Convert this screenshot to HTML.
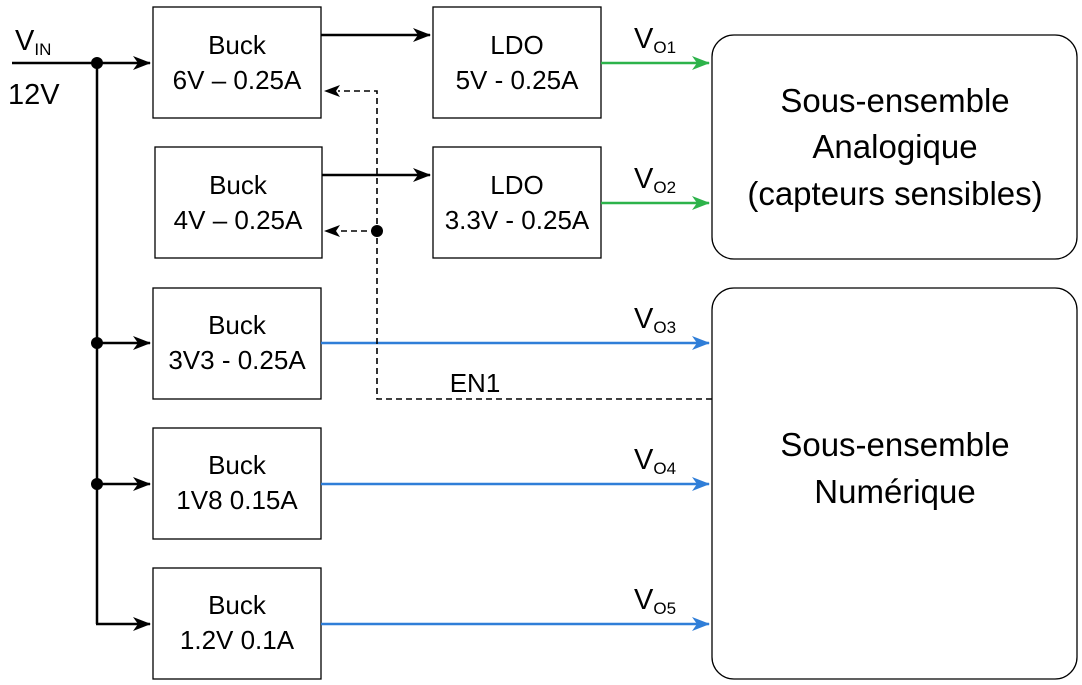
<!DOCTYPE html>
<html><head><meta charset="utf-8"><style>
html,body{margin:0;padding:0;background:#fff}
svg{display:block}
text{font-family:"Liberation Sans",sans-serif;fill:#000}
</style></head><body>
<svg width="1082" height="685" viewBox="0 0 1082 685">
<defs>
<marker id="ak" markerWidth="18" markerHeight="14" refX="17" refY="7" orient="auto" markerUnits="userSpaceOnUse"><path d="M0,0 L18,7 L0,14 L5,7 Z" fill="#000"/></marker>
<marker id="ag" markerWidth="18" markerHeight="14" refX="17" refY="7" orient="auto" markerUnits="userSpaceOnUse"><path d="M0,0 L18,7 L0,14 L5,7 Z" fill="#2db34a"/></marker>
<marker id="ab" markerWidth="18" markerHeight="14" refX="17" refY="7" orient="auto" markerUnits="userSpaceOnUse"><path d="M0,0 L18,7 L0,14 L5,7 Z" fill="#2f7ed8"/></marker>
</defs>
<g fill="#fff" stroke="#000" stroke-width="1.3">
<rect x="153" y="7" width="168" height="111"/>
<rect x="155" y="147" width="167" height="111"/>
<rect x="153" y="288" width="168" height="111"/>
<rect x="153" y="428" width="168" height="111"/>
<rect x="153" y="568" width="168" height="111"/>
<rect x="433" y="7" width="168" height="111"/>
<rect x="433" y="147" width="168" height="111"/>
<rect x="712" y="35" width="365" height="224" rx="22"/>
<rect x="712" y="288" width="365" height="391" rx="22"/>
</g>
<g stroke="#000" stroke-width="2.5" fill="none">
<line x1="12" y1="63" x2="97" y2="63"/>
<line x1="97" y1="63" x2="97" y2="624"/>
<line x1="97" y1="63" x2="150" y2="63" marker-end="url(#ak)"/>
<line x1="97" y1="343" x2="150" y2="343" marker-end="url(#ak)"/>
<line x1="97" y1="484" x2="150" y2="484" marker-end="url(#ak)"/>
<line x1="96" y1="624" x2="150" y2="624" marker-end="url(#ak)"/>
<line x1="321" y1="35" x2="430" y2="35" marker-end="url(#ak)"/>
<line x1="322" y1="175" x2="430" y2="175" marker-end="url(#ak)"/>
</g>
<g fill="#000"><circle cx="97" cy="63" r="6"/><circle cx="97" cy="343" r="6"/><circle cx="97" cy="484" r="6"/><circle cx="377" cy="231" r="6"/></g>
<g stroke-width="2.5" fill="none">
<line x1="601" y1="63" x2="709" y2="63" stroke="#2db34a" marker-end="url(#ag)"/>
<line x1="601" y1="203" x2="709" y2="203" stroke="#2db34a" marker-end="url(#ag)"/>
<line x1="321" y1="343" x2="709" y2="343" stroke="#2f7ed8" marker-end="url(#ab)"/>
<line x1="321" y1="484" x2="709" y2="484" stroke="#2f7ed8" marker-end="url(#ab)"/>
<line x1="321" y1="624" x2="709" y2="624" stroke="#2f7ed8" marker-end="url(#ab)"/>
</g>
<g stroke="#000" stroke-width="1.6" fill="none" stroke-dasharray="6,4">
<polyline points="712,399 377,399 377,91 338,91"/>
<line x1="377" y1="231" x2="338" y2="231"/>
</g>
<path d="M324,91 L340,85 L336,91 L340,97 Z M324,231 L340,225 L336,231 L340,237 Z" fill="#000"/>
<g font-size="26" text-anchor="middle">
<text x="237" y="54">Buck</text><text x="237" y="89">6V – 0.25A</text>
<text x="238" y="194">Buck</text><text x="238" y="229">4V – 0.25A</text>
<text x="237" y="334">Buck</text><text x="237" y="369">3V3 - 0.25A</text>
<text x="237" y="474">Buck</text><text x="237" y="509">1V8 0.15A</text>
<text x="237" y="614">Buck</text><text x="237" y="649">1.2V 0.1A</text>
<text x="517" y="54">LDO</text><text x="517" y="89">5V - 0.25A</text>
<text x="517" y="194">LDO</text><text x="517" y="229">3.3V - 0.25A</text>
<text x="475" y="392">EN1</text>
</g>
<g font-size="33" text-anchor="middle">
<text x="895" y="112">Sous-ensemble</text>
<text x="895" y="158">Analogique</text>
<text x="895" y="205">(capteurs sensibles)</text>
<text x="895" y="456">Sous-ensemble</text>
<text x="895" y="503">Numérique</text>
</g>
<g font-size="29">
<text x="15" y="50">V<tspan font-size="17" dy="5">IN</tspan></text>
<text x="8" y="104">12V</text>
<text x="634" y="48">V<tspan font-size="17" dy="5">O1</tspan></text>
<text x="634" y="188">V<tspan font-size="17" dy="5">O2</tspan></text>
<text x="634" y="328">V<tspan font-size="17" dy="5">O3</tspan></text>
<text x="634" y="469">V<tspan font-size="17" dy="5">O4</tspan></text>
<text x="634" y="609">V<tspan font-size="17" dy="5">O5</tspan></text>
</g>
</svg>
</body></html>
